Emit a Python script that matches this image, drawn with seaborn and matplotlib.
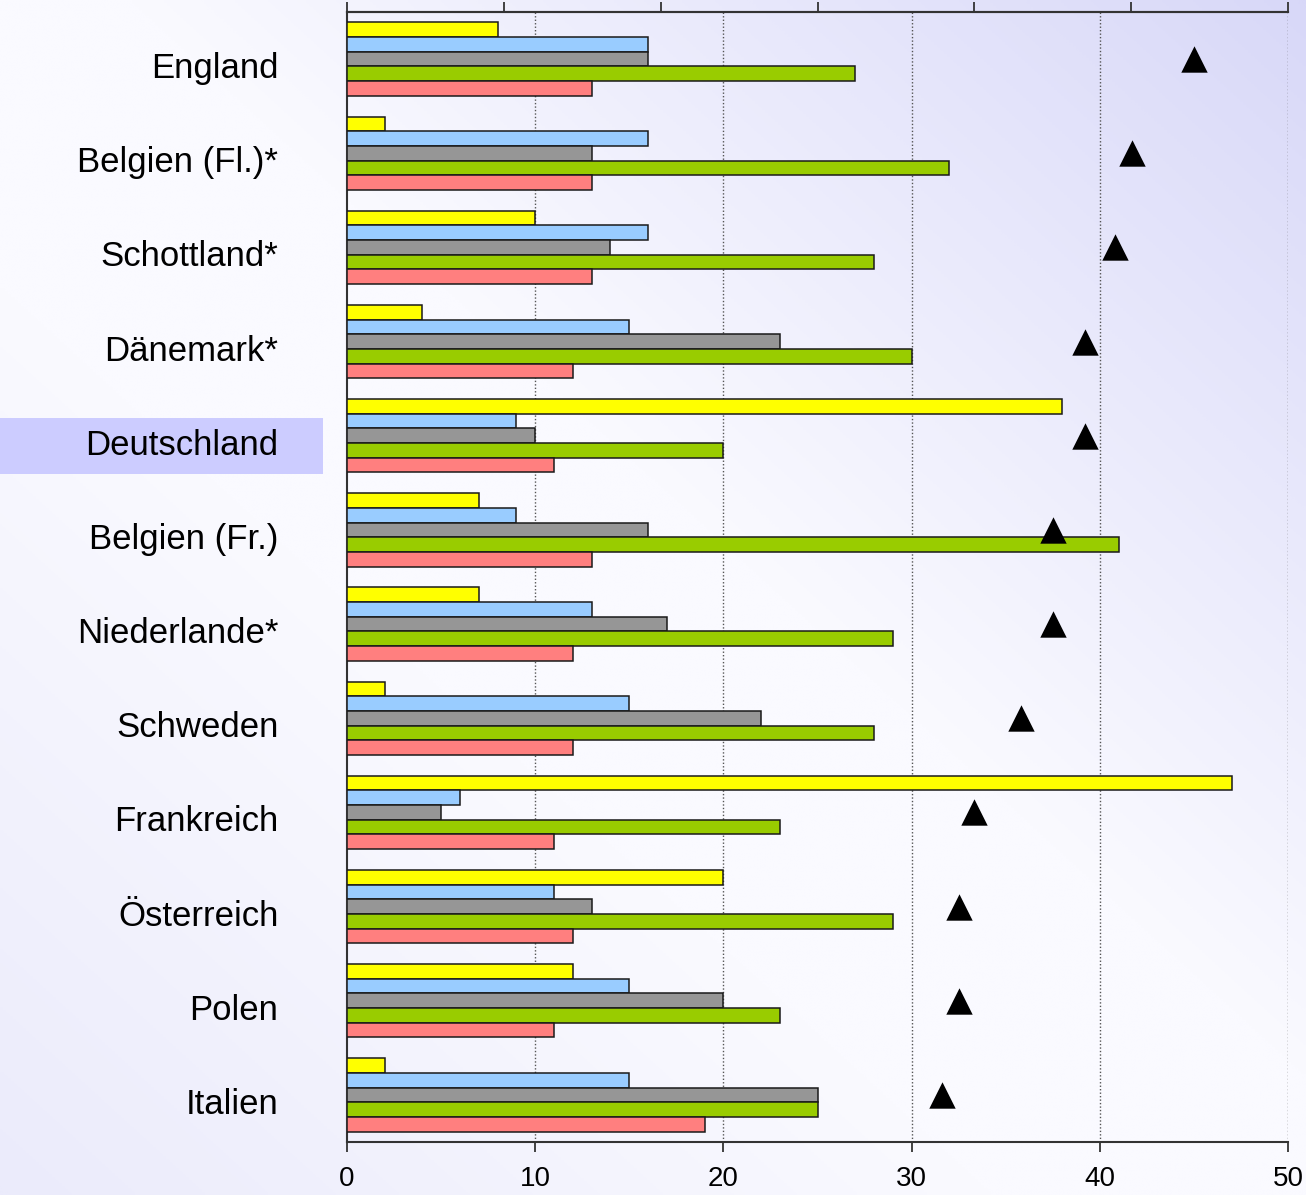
import numpy as np
import pandas as pd
import seaborn as sns
import matplotlib.pyplot as plt
import matplotlib.transforms as mtransforms
from matplotlib.colors import LinearSegmentedColormap
from matplotlib.patches import Rectangle

countries = ["England", "Belgien (Fl.)*", "Schottland*", "Dänemark*", "Deutschland",
             "Belgien (Fr.)", "Niederlande*", "Schweden", "Frankreich", "Österreich",
             "Polen", "Italien"]
series_names = ["Reihe 1", "Reihe 2", "Reihe 3", "Reihe 4", "Reihe 5"]
yellow = [8, 2, 10, 4, 38, 7, 7, 2, 47, 20, 12, 2]
blue = [16, 16, 16, 15, 9, 9, 13, 15, 6, 11, 15, 15]
gray = [16, 13, 14, 23, 10, 16, 17, 22, 5, 13, 20, 25]
green = [27, 32, 28, 30, 20, 41, 29, 28, 23, 29, 23, 25]
red = [13, 13, 13, 12, 11, 13, 12, 12, 11, 12, 11, 19]
triangles = [45.0, 41.7, 40.8, 39.2, 39.2, 37.5, 37.5, 35.8, 33.3, 32.5, 32.5, 31.6]
x_ticks = [0, 10, 20, 30, 40, 50]

colors = ["#FFFF00", "#99CCFF", "#969696", "#99CC00", "#FF7F7F"]

rows = []
for name, vals in zip(series_names, [yellow, blue, gray, green, red]):
    for c, v in zip(countries, vals):
        rows.append({"country": c, "series": name, "value": v})
df = pd.DataFrame(rows)
df_tri = pd.DataFrame({"country": countries, "value": triangles})

sns.set_style("white")
plt.rcParams["font.family"] = ["Liberation Sans", "DejaVu Sans"]
plt.rcParams["text.color"] = "black"
plt.rcParams["xtick.color"] = "black"
plt.rcParams["ytick.color"] = "black"

W, H = 1306, 1195
fig = plt.figure(figsize=(W / 100, H / 100), dpi=100)

# background gradient (diagonal, lavender top right -> white -> light lavender bottom left)
bg = fig.add_axes([0, 0, 1, 1], zorder=-2)
u = np.linspace(0, 1, 400)
v = np.linspace(0, 1, 400)
U, V = np.meshgrid(u, v)
t = ((1 - U) + V) / 2
cmap = LinearSegmentedColormap.from_list(
    "bg", [(0, "#D8D8F8"), (0.45, "#FAFAFF"), (0.62, "#FAFAFF"), (1, "#EBEBFB")])
bg.imshow(t, cmap=cmap, extent=[0, W, H, 0], aspect="auto", vmin=0, vmax=1)
bg.set_xlim(0, W)
bg.set_ylim(H, 0)
bg.add_patch(Rectangle((0, 418), 323, 56, facecolor="#CCCCFF", edgecolor="none"))
bg.axis("off")

ax = fig.add_axes([347 / W, (H - 1142) / H, 941 / W, 1130 / H])
ax.patch.set_alpha(0)

sns.barplot(data=df, x="value", y="country", hue="series", order=countries,
            hue_order=series_names, palette=colors, width=0.78, orient="h",
            edgecolor="#1a1a1a", linewidth=1.1, saturation=1, legend=False,
            zorder=3, ax=ax)
sns.stripplot(data=df_tri, x="value", y="country", order=countries, marker="^",
              size=19, color="black", jitter=False, linewidth=0, zorder=6, ax=ax)

ax.set_xlim(0, 50)
ax.set_ylim(len(countries) - 0.5, -0.5)
ax.set_xticks(x_ticks)
ax.set_xlabel("")
ax.set_ylabel("")
for xv in x_ticks[1:]:
    ax.axvline(xv, color="#555555", linestyle=(0, (1, 1.5)), linewidth=1, zorder=1)

for side in ["left", "bottom", "top"]:
    ax.spines[side].set_visible(True)
    ax.spines[side].set_color("#333333")
    ax.spines[side].set_linewidth(1.5)
ax.spines["right"].set_visible(False)

ax.tick_params(axis="x", bottom=True, direction="out", length=7, width=1.3,
               color="#333333", labelcolor="black", labelsize=20, pad=10)
ax.tick_params(axis="y", left=False, labelsize=25, pad=46, labelcolor="black")

# shift country labels slightly down like the original
shift = mtransforms.ScaledTranslation(0, -0.06, fig.dpi_scale_trans)
for lab in ax.get_yticklabels():
    lab.set_transform(lab.get_transform() + shift)

top = ax.secondary_xaxis("top")
top.set_xticks(np.linspace(0, 50, 7))
top.set_xticklabels([""] * 7)
top.tick_params(direction="out", length=7, width=1.3, color="#333333")
top.spines["top"].set_color("#333333")
top.spines["top"].set_linewidth(1.5)

fig.savefig("out.png", dpi=100)
